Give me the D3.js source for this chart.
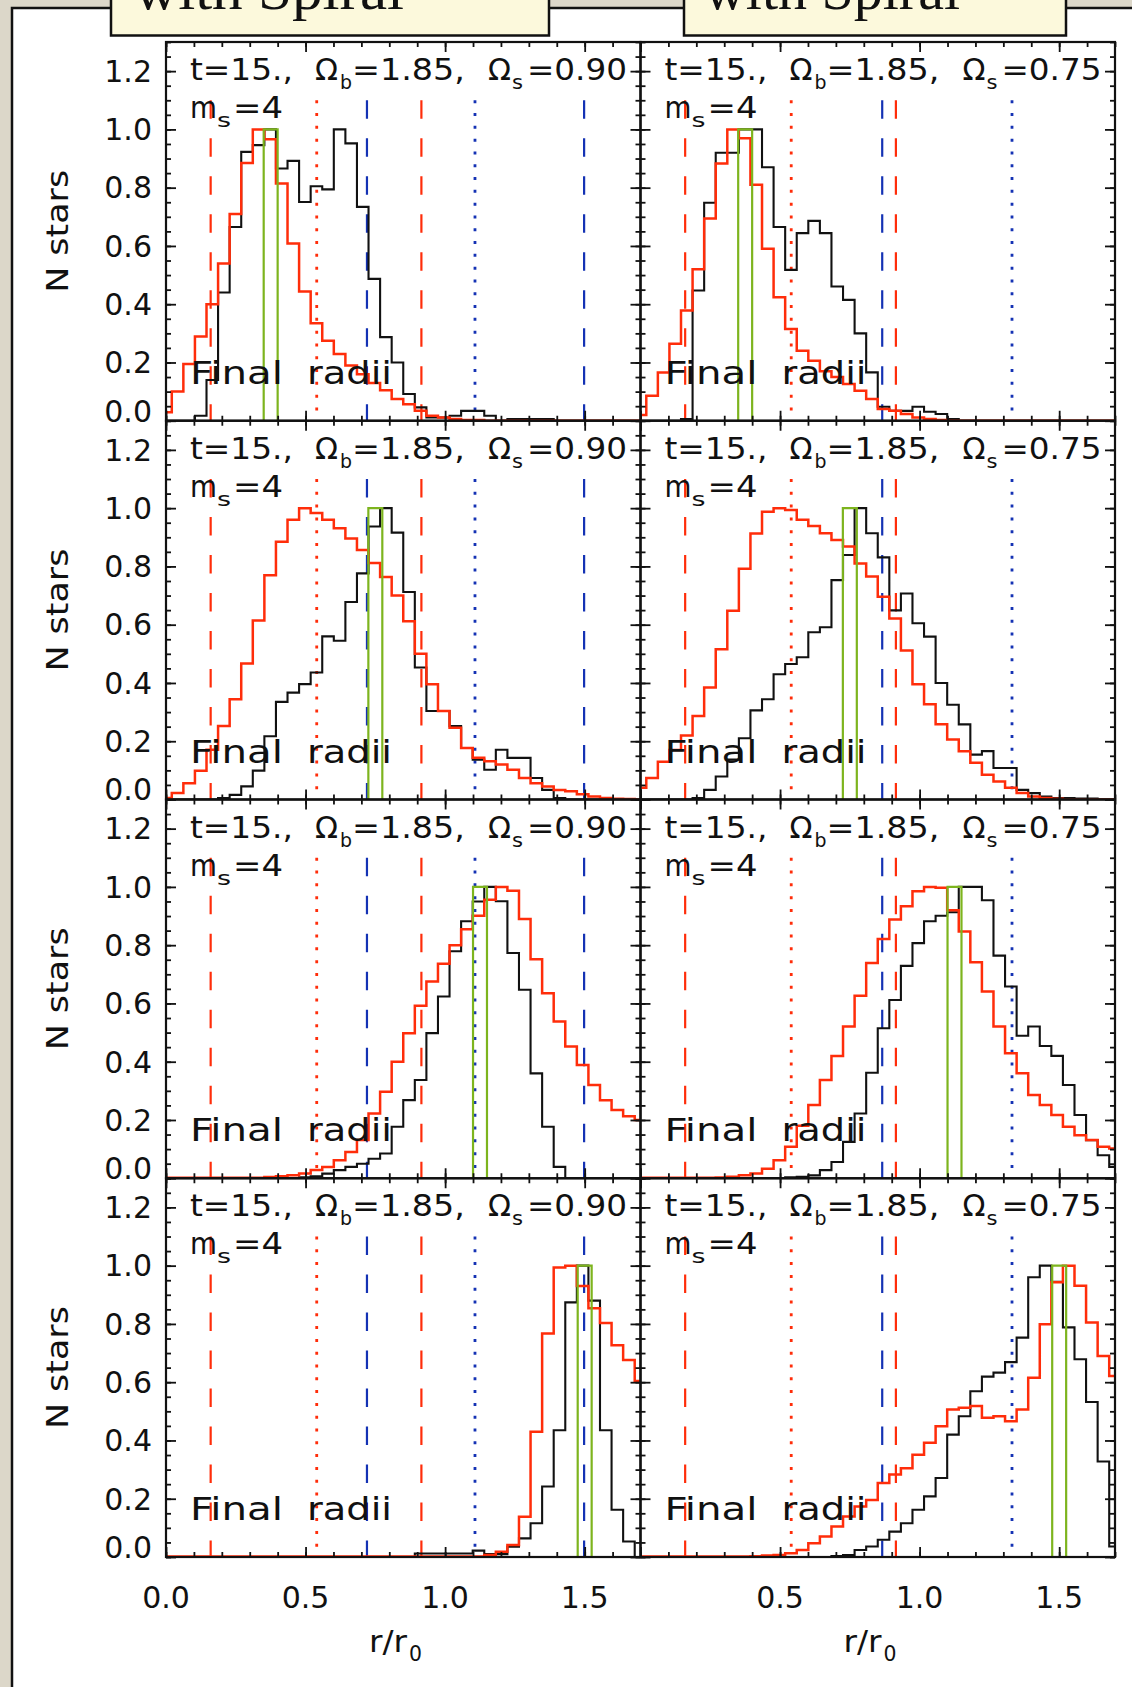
<!DOCTYPE html>
<html>
<head>
<meta charset="utf-8">
<script src="https://d3js.org/d3.v7.min.js"></script>
<style>
  body { margin: 0; background: #dcd7c9; }
  svg text { font-family: "DejaVu Sans", sans-serif; fill: #111; }
</style>
</head>
<body>
<svg id="chart" width="1132" height="1687"></svg>
<script>
// histogram bins: centred on k*binWidth, k = 0..41 (IDL psym=10 style)
var binWidth = 1.7 / 41;
var initialRadius = [0.375, 0.75, 1.125, 1.5];
var initialHalf = 0.025;
var omegaS = ["0.90", "0.75"];

// resonance lines (r/r0)
var barDashed = [0.16, 0.915];
var barDotted = [0.54];
var spiralDashed = [[0.72, 1.498], [0.866]];
var spiralDotted = [[1.107], [1.331]];

var yMajor = [0, 0.2, 0.4, 0.6, 0.8, 1.0, 1.2];
var xMajor = [0, 0.5, 1.0, 1.5];
var xLabels = [[0, 0.5, 1.0, 1.5], [0.5, 1.0, 1.5]];

// black = one set of final radii, red = the other (normalised to peak 1)
var black1L = [0,0,0,0.017,0.14,0.44,0.665,0.923,0.946,1.0,0.866,0.892,0.751,0.805,0.794,1.0,0.952,0.734,0.487,0.287,0.20,0.092,0.046,0.011,0.011,0.017,0.034,0.034,0.017,0,0.006,0.006,0.006,0.006,0,0,0,0,0,0,0,0];
var red1L   = [0.029,0.10,0.195,0.289,0.40,0.54,0.71,0.885,1.0,0.966,0.814,0.608,0.444,0.335,0.275,0.229,0.19,0.16,0.13,0.105,0.075,0.057,0.034,0.017,0.011,0.006,0.003,0.003,0,0,0,0,0,0,0,0,0,0,0,0,0,0];
var black1R = [0,0,0,0,0.006,0.447,0.748,0.92,0.92,1.0,1.0,0.87,0.665,0.518,0.644,0.686,0.644,0.461,0.415,0.30,0.166,0.048,0.034,0.034,0.048,0.031,0.023,0.006,0,0,0,0,0,0,0,0,0,0,0,0,0,0];
var red1R   = [0.02,0.086,0.166,0.264,0.378,0.52,0.694,0.883,1.0,0.97,0.81,0.59,0.424,0.315,0.24,0.206,0.17,0.15,0.126,0.103,0.075,0.04,0.034,0.023,0.011,0.006,0.003,0,0,0,0,0,0,0,0,0,0,0,0,0,0,0];

var black2L = [0,0,0,0,0,0.005,0.016,0.045,0.099,0.217,0.335,0.367,0.396,0.436,0.56,0.545,0.678,0.776,0.937,1.0,0.916,0.712,0.453,0.304,0.304,0.252,0.177,0.137,0.102,0.171,0.143,0.143,0.074,0.033,0.005,0,0,0,0,0,0,0];
var red2L   = [0.005,0.022,0.056,0.099,0.171,0.252,0.344,0.467,0.614,0.77,0.885,0.96,1.0,0.983,0.96,0.931,0.896,0.856,0.812,0.764,0.70,0.612,0.5,0.396,0.304,0.246,0.177,0.143,0.131,0.12,0.102,0.074,0.056,0.045,0.033,0.028,0.018,0.01,0.005,0.003,0.002,0];
var black2R = [0,0,0,0,0,0.005,0.033,0.079,0.137,0.21,0.306,0.344,0.43,0.465,0.488,0.574,0.591,0.753,0.839,1.0,0.914,0.831,0.649,0.707,0.605,0.559,0.40,0.325,0.258,0.154,0.166,0.108,0.108,0.033,0.022,0.01,0.005,0.005,0.003,0.003,0,0];
var red2R   = [0.04,0.074,0.13,0.17,0.22,0.287,0.384,0.516,0.648,0.792,0.913,0.988,1.0,0.994,0.96,0.939,0.914,0.891,0.868,0.81,0.765,0.696,0.621,0.511,0.396,0.327,0.258,0.206,0.166,0.126,0.085,0.062,0.04,0.022,0.01,0.005,0.003,0,0,0,0,0];

var black3L = [0,0,0,0,0,0,0,0,0,0,0,0,0.003,0.007,0.016,0.028,0.039,0.05,0.067,0.085,0.177,0.268,0.337,0.498,0.624,0.779,0.882,0.95,1.0,0.951,0.773,0.647,0.36,0.177,0.039,0,0,0,0,0,0,0];
var red3L   = [0.002,0.002,0.002,0.002,0.002,0.002,0.002,0.002,0.002,0.004,0.007,0.01,0.016,0.028,0.039,0.062,0.09,0.131,0.222,0.297,0.40,0.498,0.592,0.675,0.736,0.80,0.855,0.901,0.956,1.0,0.987,0.89,0.752,0.635,0.538,0.452,0.389,0.32,0.268,0.234,0.213,0.20];
var black3R = [0,0,0,0,0,0,0,0,0,0,0,0,0,0.003,0.005,0.01,0.028,0.056,0.125,0.222,0.362,0.515,0.612,0.729,0.807,0.882,0.901,0.913,1.0,1.0,0.954,0.764,0.658,0.489,0.521,0.454,0.42,0.32,0.217,0.131,0.079,0.039];
var red3R   = [0.002,0.002,0.002,0.002,0.002,0.002,0.002,0.003,0.005,0.01,0.016,0.033,0.062,0.108,0.18,0.251,0.337,0.42,0.521,0.626,0.739,0.821,0.888,0.934,0.985,1.0,0.997,0.92,0.847,0.741,0.641,0.521,0.429,0.36,0.286,0.251,0.217,0.177,0.148,0.131,0.108,0.102];

var black4L = [0,0,0,0,0,0,0,0,0,0,0,0,0,0,0,0,0,0,0,0,0,0,0.012,0.012,0.012,0.012,0.012,0.022,0.01,0.01,0.035,0.064,0.116,0.242,0.435,0.874,1.0,0.88,0.435,0.162,0.053,0];
var red4L   = [0.002,0.002,0.002,0.002,0.002,0.002,0.002,0.002,0.002,0.002,0.002,0.002,0.002,0.002,0.002,0.002,0.002,0.002,0.002,0.002,0.002,0.002,0.002,0.002,0.002,0.002,0.002,0.002,0.007,0.018,0.041,0.138,0.43,0.767,0.994,1.0,0.93,0.854,0.803,0.727,0.676,0.604];
var black4R = [0,0,0,0,0,0,0,0,0,0,0,0,0,0,0,0,0,0.003,0.007,0.024,0.036,0.059,0.087,0.116,0.162,0.208,0.271,0.42,0.483,0.569,0.619,0.633,0.669,0.753,0.96,1.0,0.945,0.788,0.679,0.532,0.328,0.036];
var red4R   = [0.002,0.002,0.002,0.002,0.002,0.002,0.002,0.002,0.002,0.002,0.003,0.005,0.007,0.013,0.024,0.047,0.07,0.105,0.139,0.173,0.196,0.254,0.283,0.305,0.351,0.392,0.449,0.506,0.512,0.518,0.478,0.483,0.466,0.506,0.615,0.799,0.943,1.0,0.931,0.805,0.69,0.621];

var blackHist = [[black1L, black1R], [black2L, black2R], [black3L, black3R], [black4L, black4R]];
var redHist = [[red1L, red1R], [red2L, red2R], [red3L, red3R], [red4L, red4R]];

var RED = "#ff2d0a", BLUE = "#1432b4", GREEN = "#7db41e";
var colX = [166, 640.5], panelW = 474.5, panelTop = 42, panelH = 378.75;

var svg = d3.select("#chart");

svg.append("rect").attr("width", 1132).attr("height", 1687).attr("fill", "#dcd7c9");
svg.append("rect").attr("x", 12).attr("y", 8).attr("width", 1140).attr("height", 1700)
    .attr("fill", "#fff").attr("stroke", "#111").attr("stroke-width", 2.5);

function piece(sel, str, x, y, size, len) {
    var t = sel.append("text").attr("x", x).attr("y", y).attr("font-size", size).text(str);
    if (len) t.attr("textLength", len).attr("lengthAdjust", "spacingAndGlyphs");
    return t;
}

// header boxes, mostly cut off by the top of the page (as in the original)
[[111, 438, 134, 270], [684, 382, 704, 256]].forEach(function (b) {
    svg.append("rect").attr("x", b[0]).attr("y", -6).attr("width", b[1]).attr("height", 41.5)
        .attr("fill", "#fcf9dc").attr("stroke", "#111").attr("stroke-width", 2.5);
    piece(svg, "with Spiral", b[2], 9, 56, b[3]).style("font-family", "'Liberation Serif', serif");
});

var x = d3.scaleLinear().domain([0, 1.7]).range([0, panelW]);
var y = d3.scaleLinear().domain([0, 1.3]).range([panelH, 0]);
var line = d3.line().x(function (d) { return x(d[0]); }).y(function (d) { return y(d[1]); });

function stepPoints(vals) {
    var pts = [];
    vals.forEach(function (v, k) {
        pts.push([Math.max(0, (k - 0.5) * binWidth), v]);
        pts.push([Math.min(1.7, (k + 0.5) * binWidth), v]);
    });
    return pts;
}

var xMinor = d3.range(0, 1.7001, 0.1);
var yMinor = d3.range(0, 1.3001, 0.05);

for (var r = 0; r < 4; r++) {
    for (var c = 0; c < 2; c++) {
        var g = svg.append("g").attr("transform", "translate(" + colX[c] + "," + (panelTop + r * panelH) + ")");
        var cid = "clip" + r + c;
        g.append("clipPath").attr("id", cid).append("rect").attr("width", panelW).attr("height", panelH);
        var body = g.append("g").attr("clip-path", "url(#" + cid + ")");

        // resonance lines
        function vline(v, col, dash, w) {
            body.append("path").attr("d", line([[v, 1.1], [v, 0]]))
                .attr("stroke", col).attr("stroke-width", w).attr("fill", "none")
                .attr("stroke-dasharray", dash);
        }
        barDashed.forEach(function (v) { vline(v, RED, "18.5,19.5", 2.2); });
        barDotted.forEach(function (v) { vline(v, RED, "3,9.8", 2.8); });
        spiralDashed[c].forEach(function (v) { vline(v, BLUE, "18.5,19.5", 2.2); });
        spiralDotted[c].forEach(function (v) { vline(v, BLUE, "3,9.8", 2.8); });

        body.append("path").attr("d", line(stepPoints(blackHist[r][c])))
            .attr("fill", "none").attr("stroke", "#111").attr("stroke-width", 2.1);
        body.append("path").attr("d", line(stepPoints(redHist[r][c])))
            .attr("fill", "none").attr("stroke", RED).attr("stroke-width", 2.5);

        var r0 = initialRadius[r];
        body.append("path")
            .attr("d", line([[r0 - initialHalf, 0], [r0 - initialHalf, 1], [r0 + initialHalf, 1], [r0 + initialHalf, 0]]))
            .attr("fill", "none").attr("stroke", GREEN).attr("stroke-width", 2.2);

        // frame + inward ticks on all four sides
        g.append("rect").attr("width", panelW).attr("height", panelH)
            .attr("fill", "none").attr("stroke", "#111").attr("stroke-width", 2.2);
        function ticks(axis, vals, len, tr) {
            var a = g.append("g").attr("transform", tr || null)
                .call(axis.tickValues(vals).tickSize(-len).tickFormat(""));
            a.select(".domain").remove();
            a.selectAll("line").attr("stroke", "#111").attr("stroke-width", 1.8);
        }
        ticks(d3.axisBottom(x), xMinor, 5, "translate(0," + panelH + ")");
        ticks(d3.axisBottom(x), xMajor, 10, "translate(0," + panelH + ")");
        ticks(d3.axisTop(x), xMinor, 5);
        ticks(d3.axisTop(x), xMajor, 10);
        ticks(d3.axisLeft(y), yMinor, 5);
        ticks(d3.axisLeft(y), yMajor, 10);
        ticks(d3.axisRight(y), yMinor, 5, "translate(" + panelW + ",0)");
        ticks(d3.axisRight(y), yMajor, 10, "translate(" + panelW + ",0)");

        // annotations
        piece(g, "t=15.,", 24, 38, 31, 103);
        piece(g, "\u03A9", 149, 38, 31, 23);
        piece(g, "b", 174, 47, 20, 12);
        piece(g, "=1.85,", 186, 38, 31, 113);
        piece(g, "\u03A9", 322, 38, 31, 23);
        piece(g, "s", 346, 47, 20, 11);
        piece(g, "=" + omegaS[c], 361, 38, 31, 100);
        piece(g, "m", 24, 76, 31, 27);
        piece(g, "s", 51, 85, 20, 14);
        piece(g, "=4", 67, 76, 31, 50);
        piece(g, "Final", 24, panelH - 37, 32, 93);
        piece(g, "radii", 141, panelH - 37, 32, 85);

        if (c === 0) {
            g.selectAll(".ylab").data(yMajor).enter().append("text")
                .attr("class", "ylab")
                .attr("x", -14)
                .attr("y", function (d) { return y(d) - (d === 0 ? 10 : 0); })
                .attr("dy", "0.36em")
                .attr("text-anchor", "end").attr("font-size", 30)
                .text(d3.format(".1f"));
            g.append("text").attr("transform", "translate(-109," + (panelH / 2) + ") rotate(-90)")
                .attr("text-anchor", "middle").attr("dy", "0.36em").attr("font-size", 31)
                .attr("textLength", 123).attr("lengthAdjust", "spacingAndGlyphs")
                .text("N stars");
        }
        if (r === 3) {
            g.selectAll(".xlab").data(xLabels[c]).enter().append("text")
                .attr("class", "xlab")
                .attr("x", function (d) { return x(d); })
                .attr("y", panelH + 51)
                .attr("text-anchor", "middle").attr("font-size", 30)
                .text(d3.format(".1f"));
            piece(g, "r/r", 203, panelH + 95, 30, 38);
            piece(g, "0", 243, panelH + 104, 21, 13);
        }
    }
}
</script>
</body>
</html>
